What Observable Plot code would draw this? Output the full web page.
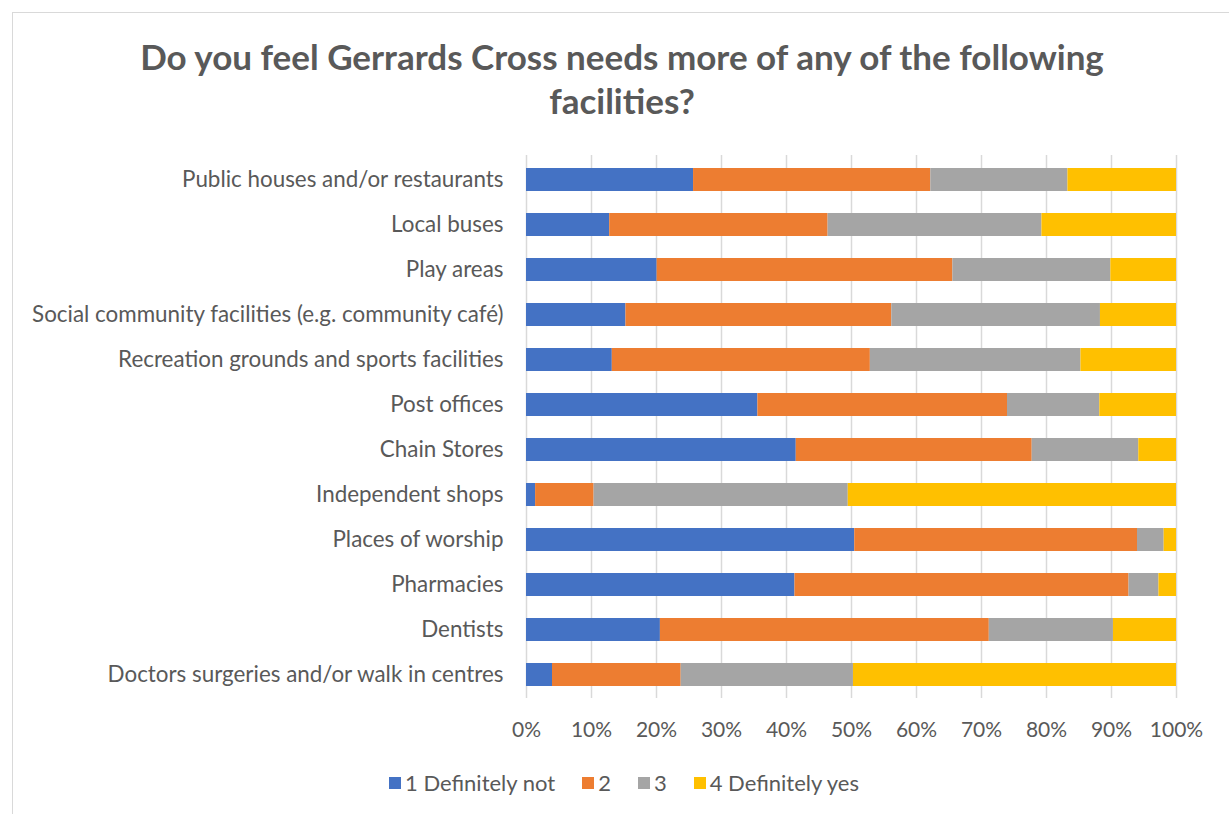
<!DOCTYPE html>
<html>
<head>
<meta charset="utf-8">
<script src="https://cdn.jsdelivr.net/npm/d3@7"></script>
<script src="https://cdn.jsdelivr.net/npm/@observablehq/plot@0.6"></script>
<style>
  html, body { margin: 0; padding: 0; background: #fff; }
  #wrap { position: relative; width: 1229px; height: 814px; overflow: hidden; font-family: Lato, "Open Sans", sans-serif; }
  #frame { position: absolute; left: 12px; top: 12px; width: 1240px; height: 820px; border: 1px solid #d9d9d9; box-sizing: border-box; }
  #title { position: absolute; left: 0; width: 1244px; top: 34px; text-align: center; font-weight: bold; font-size: 35px; line-height: 44px; color: #595959; }
  #chart { position: absolute; left: 0; top: 140px; }
  #legend { position: absolute; top: 769px; left: 389px; display: flex; align-items: center; font-size: 22px; color: #595959; white-space: nowrap; }
  .item { display: flex; align-items: center; margin-right: 27px; }
  .sw { width: 12px; height: 12px; margin-right: 4px; }
</style>
</head>
<body>
<div id="wrap">
  <div id="frame"></div>
  <div id="title">Do you feel Gerrards Cross needs more of any of the following<br>facilities?</div>
  <div id="chart"></div>
  <div id="legend"></div>
</div>
<script>
const categories = [
  "Public houses and/or restaurants",
  "Local buses",
  "Play areas",
  "Social community facilities (e.g. community café)",
  "Recreation grounds and sports facilities",
  "Post offices",
  "Chain Stores",
  "Independent shops",
  "Places of worship",
  "Pharmacies",
  "Dentists",
  "Doctors surgeries and/or walk in centres"
];
const seriesNames = ["1 Definitely not", "2", "3", "4 Definitely yes"];
const seriesColors = ["#4472C4", "#ED7D31", "#A5A5A5", "#FFC000"];
const definitelyNot = [25.7, 12.8, 20.1, 15.3, 13.2, 35.6, 41.5, 1.4, 50.5, 41.3, 20.6, 4.0];
const two           = [36.5, 33.6, 45.5, 40.9, 39.7, 38.4, 36.3, 9.0, 43.5, 51.4, 50.6, 19.8];
const three         = [21.1, 32.9, 24.3, 32.1, 32.4, 14.2, 16.4, 39.1, 4.1, 4.6, 19.1, 26.5];
const definitelyYes = [16.7, 20.7, 10.1, 11.7, 14.7, 11.8, 5.8, 50.5, 1.9, 2.7, 9.7, 49.7];
const xTicks = [0, 10, 20, 30, 40, 50, 60, 70, 80, 90, 100];

const seriesValues = [definitelyNot, two, three, definitelyYes];
const data = [];
categories.forEach((c, i) => {
  seriesNames.forEach((s, j) => {
    data.push({category: c, series: s, value: seriesValues[j][i]});
  });
});

const chart = Plot.plot({
  width: 1229,
  height: 610,
  marginLeft: 526,
  marginRight: 53,
  marginTop: 15,
  marginBottom: 52,
  style: {fontFamily: "Lato, 'Open Sans', sans-serif", fontSize: "21px", color: "#595959", background: "transparent"},
  x: {domain: [0, 100], ticks: xTicks, tickFormat: d => d + "%", tickSize: 0, tickPadding: 25, label: null},
  y: {domain: categories, paddingInner: 0.5, paddingOuter: 0.25, tickSize: 0, tickPadding: 23, label: null},
  color: {domain: seriesNames, range: seriesColors},
  marks: [
    Plot.ruleX(xTicks, {stroke: "#d9d9d9", strokeWidth: 1.5}),
    Plot.barX(data, Plot.stackX({y: "category", x: "value", fill: "series", z: "series", order: seriesNames})),
    Plot.axisX({ticks: xTicks, tickFormat: d => d + "%", tickSize: 0, tickPadding: 24, fontSize: 21, fill: "#595959"}),
    Plot.axisY({tickSize: 0, tickPadding: 23, fontSize: 22.4, fill: "#595959"})
  ]
});
document.getElementById("chart").appendChild(chart);

const legend = document.getElementById("legend");
seriesNames.forEach((s, i) => {
  const item = document.createElement("div");
  item.className = "item";
  const sw = document.createElement("div");
  sw.className = "sw";
  sw.style.background = seriesColors[i];
  item.appendChild(sw);
  const t = document.createElement("span");
  t.textContent = s;
  item.appendChild(t);
  legend.appendChild(item);
});
</script>
</body>
</html>
